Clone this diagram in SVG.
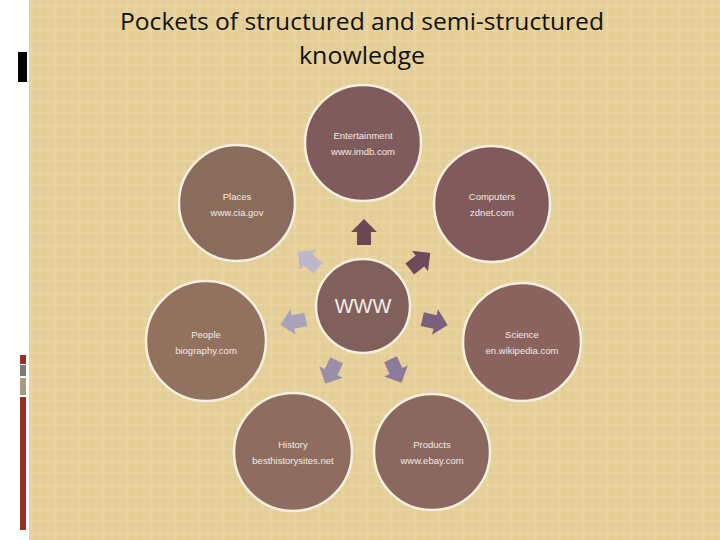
<svg xmlns="http://www.w3.org/2000/svg" width="720" height="540" viewBox="0 0 720 540">
<defs>
<pattern id="tex" width="24" height="24" patternUnits="userSpaceOnUse">
<rect width="24" height="24" fill="#E6D09A"/>
<path d="M3 0V24M11 0V24M19 0V24" stroke="#D8BF86" stroke-width="1" opacity="0.45"/>
<path d="M0 6H24M0 17H24" stroke="#F0DEB0" stroke-width="1.5" opacity="0.35"/>
<path d="M7 0V24" stroke="#F0E0B4" stroke-width="1" opacity="0.5"/>
</pattern>
<path id="arr" d="M-13,-7 L0,-7 L0,-13 L13,0 L0,13 L0,7 L-13,7 Z"/>
</defs>
<style>
.node{stroke:#F6EFDF;stroke-width:2.5}
.lbl{font-family:"Liberation Sans",Arial,sans-serif;font-size:9.5px;fill:#F3EAE2;text-anchor:middle}
.title{font-family:"Open Sans","Liberation Sans",sans-serif;font-size:24px;fill:#111;text-anchor:middle}
</style>
<rect width="720" height="540" fill="#FFFFFF"/>
<rect x="29" y="0" width="691" height="540" fill="url(#tex)"/>
<rect x="18" y="52" width="9" height="30" fill="#000"/>
<rect x="20" y="355" width="6" height="9" fill="#9A2E22"/>
<rect x="20" y="365" width="6" height="11" fill="#7E7A72"/>
<rect x="20" y="378" width="6" height="17" fill="#A99C7E"/>
<rect x="20" y="397" width="6" height="133" fill="#9A2E22"/>
<text class="title" x="362" y="30" textLength="484" lengthAdjust="spacingAndGlyphs">Pockets of structured and semi-structured</text>
<text class="title" x="362" y="64" textLength="126" lengthAdjust="spacingAndGlyphs">knowledge</text>
<g id="connectors">
<use href="#arr" transform="translate(364,232) rotate(-90)" fill="#6A4753"/>
<use href="#arr" transform="translate(420,261) rotate(-38)" fill="#6C4A5A"/>
<use href="#arr" transform="translate(435,322) rotate(13)" fill="#7B5F7C"/>
<use href="#arr" transform="translate(396,371) rotate(65)" fill="#8C7A9A"/>
<use href="#arr" transform="translate(331,372) rotate(116)" fill="#9C8DAA"/>
<use href="#arr" transform="translate(293,322) rotate(168)" fill="#AAA2BA"/>
<use href="#arr" transform="translate(308,260) rotate(-141)" fill="#BCB8CA"/>
</g>
<g id="entertainment"><circle class="node" cx="363" cy="143" r="58" fill="#7F5B5B"/><text class="lbl" x="363" y="139">Entertainment</text><text class="lbl" x="363" y="155">www.imdb.com</text></g>
<g id="places"><circle class="node" cx="237" cy="203" r="58" fill="#8A6C5C"/><text class="lbl" x="237" y="200">Places</text><text class="lbl" x="237" y="216">www.cia.gov</text></g>
<g id="computers"><circle class="node" cx="492" cy="204" r="58" fill="#815B5C"/><text class="lbl" x="492" y="200">Computers</text><text class="lbl" x="492" y="216">zdnet.com</text></g>
<g id="www"><circle class="node" cx="363" cy="306" r="47" fill="#81605C"/><text x="363" y="313" font-family="Liberation Sans,Arial,sans-serif" font-size="20" fill="#F4EEEA" text-anchor="middle">WWW</text></g>
<g id="people"><circle class="node" cx="206" cy="341" r="60" fill="#93715F"/><text class="lbl" x="206" y="338">People</text><text class="lbl" x="206" y="354">biography.com</text></g>
<g id="science"><circle class="node" cx="522" cy="342" r="59" fill="#8A635E"/><text class="lbl" x="522" y="338">Science</text><text class="lbl" x="522" y="354">en.wikipedia.com</text></g>
<g id="history"><circle class="node" cx="293" cy="452" r="59" fill="#8E6C60"/><text class="lbl" x="293" y="448">History</text><text class="lbl" x="293" y="464">besthistorysites.net</text></g>
<g id="products"><circle class="node" cx="432" cy="452" r="58" fill="#8A675F"/><text class="lbl" x="432" y="448">Products</text><text class="lbl" x="432" y="464">www.ebay.com</text></g>
</svg>
